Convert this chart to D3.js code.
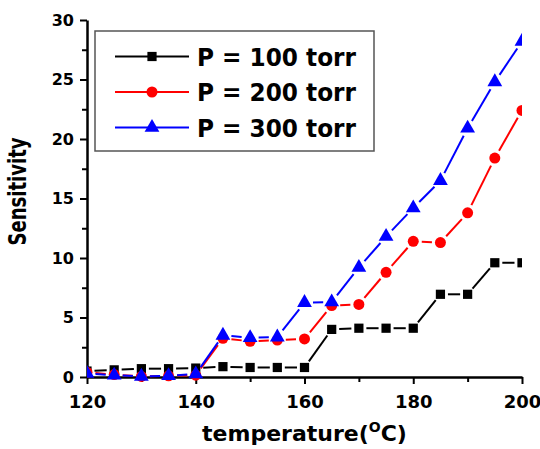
<!DOCTYPE html>
<html>
<head>
<meta charset="utf-8">
<script src="https://cdn.jsdelivr.net/npm/d3@7"></script>
<style>
  body { margin: 0; background: #fff; }
  text { font-family: "DejaVu Sans", Arial, sans-serif; font-weight: bold; }
</style>
</head>
<body>
<div id="chart"></div>
<script>
// Data
const temperature = [120, 125, 130, 135, 140, 145, 150, 155, 160, 165, 170, 175, 180, 185, 190, 195, 200];
const p100 = [0.5, 0.6, 0.7, 0.7, 0.75, 0.87, 0.8, 0.8, 0.8, 4.0, 4.1, 4.1, 4.1, 6.95, 6.95, 9.6, 9.6];
const p200 = [0.4, 0.2, 0.05, 0.1, 0.15, 3.25, 3.0, 3.1, 3.2, 6.0, 6.1, 8.8, 11.4, 11.3, 13.8, 18.4, 22.4];
const p300 = [0.3, 0.15, 0.05, 0.1, 0.25, 3.5, 3.3, 3.35, 6.25, 6.3, 9.2, 11.8, 14.2, 16.5, 20.9, 24.8, 28.2];
const seriesNames = ["P = 100 torr", "P = 200 torr", "P = 300 torr"];
const xTicks = [120, 140, 160, 180, 200];
const yTicks = [0, 5, 10, 15, 20, 25, 30];

const width = 540;
const height = 449;
const margin = { top: 20, right: 18, bottom: 72, left: 87 };

const series = [
    { name: seriesNames[0], values: p100, color: "#000000", shape: d3.symbolSquare, size: 85, gap: 7.5 },
    { name: seriesNames[1], values: p200, color: "#ff0000", shape: d3.symbolCircle, size: 95, gap: 8.5 },
    { name: seriesNames[2], values: p300, color: "#0000ff", shape: d3.symbolTriangle, size: 95, gap: 8.5 }
];

const svg = d3.select("#chart")
    .append("svg")
    .attr("width", width)
    .attr("height", height);

const x = d3.scaleLinear()
    .domain([120, 200])
    .range([margin.left, width - margin.right]);

const y = d3.scaleLinear()
    .domain([0, 30])
    .range([height - margin.bottom, margin.top]);

// clip at the x range, like the original plot frame
svg.append("clipPath").attr("id", "clip")
    .append("rect")
    .attr("x", x(120))
    .attr("y", 0)
    .attr("width", x(200) - x(120))
    .attr("height", height);

// minor ticks
svg.append("g")
    .attr("transform", `translate(0,${y(0)})`)
    .call(d3.axisBottom(x).tickValues([130, 150, 170, 190]).tickSize(5).tickFormat(""))
    .call(g => g.select(".domain").remove())
    .selectAll("line").attr("stroke-width", 2);

svg.append("g")
    .attr("transform", `translate(${x(120)},0)`)
    .call(d3.axisLeft(y).tickValues([2.5, 7.5, 12.5, 17.5, 22.5, 27.5]).tickSize(5).tickFormat(""))
    .call(g => g.select(".domain").remove())
    .selectAll("line").attr("stroke-width", 2);

// x axis
const xAxis = svg.append("g")
    .attr("transform", `translate(0,${y(0)})`)
    .call(d3.axisBottom(x).tickValues(xTicks).tickSize(7).tickSizeOuter(0).tickPadding(11));
xAxis.select(".domain").attr("stroke-width", 2.5);
xAxis.selectAll("line").attr("stroke-width", 2);
xAxis.selectAll("text").attr("font-size", 18).attr("fill", "#000");

// y axis
const yAxis = svg.append("g")
    .attr("transform", `translate(${x(120)},0)`)
    .call(d3.axisLeft(y).tickValues(yTicks).tickSize(7).tickSizeOuter(0).tickPadding(6));
yAxis.select(".domain").attr("stroke-width", 2.5);
yAxis.selectAll("line").attr("stroke-width", 2);
yAxis.selectAll("text").attr("font-size", 16).attr("fill", "#000");

// axis titles
const xTitle = svg.append("text")
    .attr("x", (x(120) + x(200)) / 2)
    .attr("y", 441)
    .attr("text-anchor", "middle")
    .attr("font-size", 22)
    .attr("fill", "#000");
xTitle.append("tspan").text("temperature(");
xTitle.append("tspan").attr("font-size", 14).attr("dy", -9).text("O");
xTitle.append("tspan").attr("dy", 9).text("C)");

svg.append("text")
    .attr("transform", `translate(26,${(138 + 245) / 2}) rotate(-90)`)
    .attr("text-anchor", "middle")
    .attr("font-size", 24)
    .attr("textLength", 108)
    .attr("lengthAdjust", "spacingAndGlyphs")
    .attr("fill", "#000")
    .text("Sensitivity");

// plot lines with small gaps around the markers
const plot = svg.append("g").attr("clip-path", "url(#clip)");

series.forEach(s => {
    const pts = temperature.map((t, i) => [x(t), y(s.values[i])]);
    const g = plot.append("g");
    for (let i = 0; i < pts.length - 1; i++) {
        const [x0, y0] = pts[i];
        const [x1, y1] = pts[i + 1];
        const len = Math.hypot(x1 - x0, y1 - y0);
        if (len <= 2 * s.gap) continue;
        const ux = (x1 - x0) / len, uy = (y1 - y0) / len;
        g.append("line")
            .attr("x1", x0 + ux * s.gap).attr("y1", y0 + uy * s.gap)
            .attr("x2", x1 - ux * s.gap).attr("y2", y1 - uy * s.gap)
            .attr("stroke", s.color)
            .attr("stroke-width", 2);
    }
    g.selectAll("path.mark")
        .data(pts)
        .enter()
        .append("path")
        .attr("class", "mark")
        .attr("transform", d => `translate(${d[0]},${d[1]})`)
        .attr("d", d3.symbol().type(s.shape).size(s.size))
        .attr("fill", s.color);
});

// legend
const legend = svg.append("g");
legend.append("rect")
    .attr("x", 95).attr("y", 31)
    .attr("width", 279).attr("height", 120)
    .attr("fill", "#fff")
    .attr("stroke", "#555")
    .attr("stroke-width", 1.5);

series.forEach((s, i) => {
    const ly = 56.5 + i * 35.5;
    legend.append("line")
        .attr("x1", 115).attr("x2", 189)
        .attr("y1", ly).attr("y2", ly)
        .attr("stroke", s.color)
        .attr("stroke-width", 2);
    legend.append("path")
        .attr("transform", `translate(152,${ly})`)
        .attr("d", d3.symbol().type(s.shape).size(s.size))
        .attr("fill", s.color);
    legend.append("text")
        .attr("x", 197)
        .attr("y", ly + 9)
        .attr("font-size", 24)
        .attr("textLength", 159)
        .attr("lengthAdjust", "spacingAndGlyphs")
        .attr("fill", "#000")
        .text(s.name);
});
</script>
</body>
</html>
